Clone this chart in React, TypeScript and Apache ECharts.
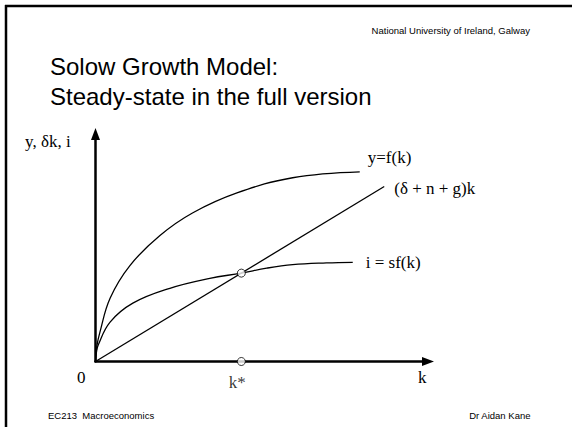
import React, { useEffect, useRef } from "react";
import * as echarts from "echarts";

// Capital per effective worker (k) and the curves plotted against it
const prodK = [0, 0.05, 0.15, 0.5, 1.18, 2.21, 3.34, 4.85, 6.76, 9.06];
const prodY = [0, 0.55, 1.0, 2.17, 3.29, 4.32, 5.1, 5.78, 6.3, 6.5];

const saveK = [0, 0.03, 0.09, 0.5, 1.28, 2.55, 3.92, 5.0, 5.87, 6.76, 7.92, 8.82];
const saveY = [0, 0.3, 0.56, 1.35, 2.0, 2.51, 2.85, 3.03, 3.2, 3.32, 3.38, 3.4];

const breakEvenK = [0, 9.9];
const breakEvenY = [0, 6.0];

const kStar = 5.0;
const kStarValue = 3.03;

const curveLabels = ["y=f(k)", "(δ + n + g)k", "i = sf(k)"];

const serif = "'Liberation Serif', 'DejaVu Serif', serif";
const sans = "'Liberation Sans', Arial, sans-serif";

const pairs = (xs: number[], ys: number[]) => xs.map((x, i) => [x, ys[i]]);

export default function App() {
  const ref = useRef<HTMLDivElement>(null);

  useEffect(() => {
    if (!ref.current) return;
    const chart = echarts.init(ref.current, null, { renderer: "svg" });

    const curve = (name: string, data: number[][], label: string, offset: number[]) => ({
      type: "line",
      name,
      data,
      smooth: 0.4,
      showSymbol: false,
      silent: true,
      lineStyle: { color: "#000", width: 1.3 },
      endLabel: {
        show: true,
        formatter: label,
        offset,
        color: "#000",
        fontFamily: serif,
        fontSize: 17,
      },
    });

    chart.setOption({
      animation: false,
      backgroundColor: "#fff",
      grid: { left: 95.5, top: 134, width: 332.5, height: 227.5 },
      xAxis: {
        type: "value",
        min: 0,
        max: 11.4,
        axisLine: {
          show: true,
          symbol: ["none", "triangle"],
          symbolSize: [9, 12],
          lineStyle: { color: "#000", width: 2.5 },
        },
        axisTick: { show: false },
        axisLabel: { show: false },
        splitLine: { show: false },
      },
      yAxis: {
        type: "value",
        min: 0,
        max: 7.8,
        axisLine: {
          show: true,
          symbol: ["none", "triangle"],
          symbolSize: [9, 12],
          lineStyle: { color: "#000", width: 2.5 },
        },
        axisTick: { show: false },
        axisLabel: { show: false },
        splitLine: { show: false },
      },
      series: [
        curve("f", pairs(prodK, prodY), curveLabels[0], [0, -14]),
        curve("breakEven", pairs(breakEvenK, breakEvenY), curveLabels[1], [2, 2]),
        curve("sf", pairs(saveK, saveY), curveLabels[2], [5, 0]),
        {
          type: "scatter",
          silent: true,
          symbol: "circle",
          symbolSize: 8,
          itemStyle: { color: "#fff", borderColor: "#000", borderWidth: 1 },
          data: [
            [kStar, kStarValue],
            {
              value: [kStar, 0],
              label: {
                show: true,
                position: "bottom",
                distance: 8,
                offset: [-4, 0],
                formatter: "k*",
                color: "#000",
                fontFamily: serif,
                fontSize: 17,
              },
            },
          ],
          z: 5,
        },
      ],
      graphic: [
        // slide frame
        { type: "line", shape: { x1: 5, y1: 6, x2: 572, y2: 6 }, style: { stroke: "#000", lineWidth: 2.5 } },
        { type: "line", shape: { x1: 6, y1: 5, x2: 6, y2: 427 }, style: { stroke: "#000", lineWidth: 2.5 } },
        {
          type: "text",
          right: 42,
          top: 25,
          style: { text: "National University of Ireland, Galway", font: `9.5px ${sans}`, fill: "#000" },
        },
        {
          type: "text",
          left: 50,
          top: 51,
          style: {
            text: "Solow Growth Model:\nSteady-state in the full version",
            font: `24px ${sans}`,
            lineHeight: 30,
            fill: "#000",
          },
        },
        {
          type: "text",
          left: 25,
          top: 133,
          style: { text: "y, δk, i", font: `17px ${serif}`, fill: "#000" },
        },
        {
          type: "text",
          left: 77,
          top: 369,
          style: { text: "0", font: `17px ${serif}`, fill: "#000" },
        },
        {
          type: "text",
          left: 418,
          top: 369,
          style: { text: "k", font: `17px ${serif}`, fill: "#000" },
        },
        {
          type: "text",
          left: 48,
          top: 410,
          style: { text: "EC213  Macroeconomics", font: `9.5px ${sans}`, fill: "#000" },
        },
        {
          type: "text",
          right: 41,
          top: 410,
          style: { text: "Dr Aidan Kane", font: `9.5px ${sans}`, fill: "#000" },
        },
      ],
    });

    return () => chart.dispose();
  }, []);

  return (
    <div
      ref={ref}
      style={{ position: "fixed", left: 0, top: 0, width: 572, height: 427, background: "#fff" }}
    />
  );
}
